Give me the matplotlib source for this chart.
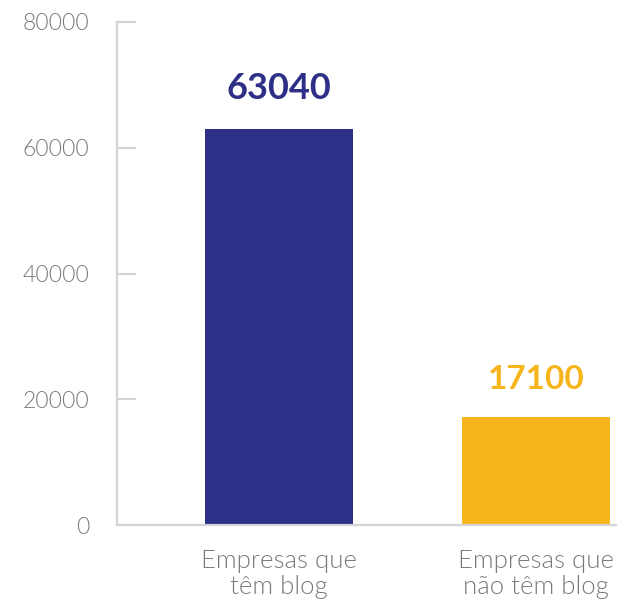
import matplotlib
matplotlib.use("Agg")
import matplotlib.pyplot as plt

categories = ["Empresas que\ntêm blog", "Empresas que\nnão têm blog"]
values = [63040, 17100]
colors = ["#2E2F87", "#F7B51C"]
yticks = [0, 20000, 40000, 60000, 80000]

fig = plt.figure(figsize=(6.17, 6.03), dpi=100)
ax = fig.add_axes([117/617, 1-525/603, 1-117/617, (525-22)/603])
x = list(range(len(categories)))
ax.bar(x, values, width=0.576, color=colors, zorder=2)
ax.set_xlim(-0.630, 1.315)
ax.set_ylim(0, 80000)
ax.set_yticks(yticks)
ax.set_yticklabels([str(v) for v in yticks], fontsize=16.5, color="#7a7a7a",
                   family=["Lato", "DejaVu Sans"], fontweight=300)
ax.tick_params(axis="y", direction="in", length=14, width=1.5, color="#d4d4d4", pad=20)
ax.set_xticks(x)
ax.set_xticklabels(categories, fontsize=18.5, color="#7a7a7a",
                   family=["Lato", "DejaVu Sans"], fontweight=300, linespacing=1.15)
ax.tick_params(axis="x", length=0, pad=17)
for s in ["top", "right"]:
    ax.spines[s].set_visible(False)
for s in ["left", "bottom"]:
    ax.spines[s].set_color("#d4d4d4")
    ax.spines[s].set_linewidth(1.6)
sizes = [26, 24]
for xi, v, c, fs in zip(x, values, colors, sizes):
    ax.annotate(str(v), (xi, v), xytext=(0, 17), textcoords="offset points",
                ha="center", va="bottom", fontsize=fs, fontweight="bold", color=c,
                family=["Lato", "DejaVu Sans"])
fig.savefig("out.png", dpi=100)
